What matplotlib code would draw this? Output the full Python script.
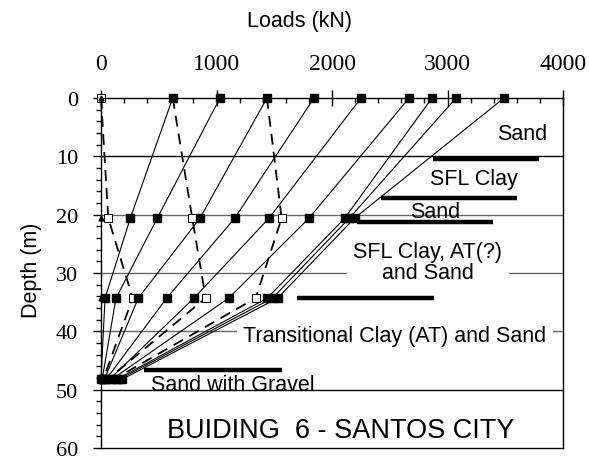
import matplotlib
matplotlib.use("Agg")
import matplotlib.pyplot as plt
from matplotlib.ticker import MultipleLocator

# Depths of the strain-gauge levels (m)
depths = [0.0, 20.6, 34.3, 48.2]

# Axial load (kN) at each gauge level, one list per load stage
solid_loads = [
    [621, 254, 35, 0],
    [1030, 487, 130, 10],
    [1437, 857, 323, 30],
    [1844, 1158, 569, 45],
    [2251, 1455, 805, 75],
    [2667, 1801, 1106, 95],
    [2866, 2110, 1440, 140],
    [3074, 2150, 1485, 160],
    [3489, 2195, 1530, 185],
]
dashed_loads = [
    [0, 63, 274, 20],
    [621, 790, 906, 60],
    [1437, 1564, 1339, 115],
]
zero_loads = [0, 0, 0, 0]

# Soil layer boundaries marked with thick bars: (start load, end load, depth)
bar_start = [2874, 2424, 2216, 1697, 372]
bar_end = [3792, 3602, 3394, 2883, 1567]
bar_depth = [10.5, 17.1, 21.3, 34.3, 46.7]

layer_names = ["Sand", "SFL Clay", "Sand", "SFL Clay, AT(?)\nand Sand",
               "Transitional Clay (AT) and Sand", "Sand with Gravel"]
title_text = "BUIDING  6 - SANTOS CITY"

x_ticks = [0, 1000, 2000, 3000, 4000]
y_ticks = [0, 10, 20, 30, 40, 50, 60]

SANS = "Liberation Sans"
SERIF = "Liberation Serif"

fig = plt.figure(figsize=(5.89, 4.60), dpi=100)
ax = fig.add_axes([101 / 589, 1 - 449 / 460, 462 / 589, 350 / 460])

ax.set_xlim(0, 4000)
ax.set_ylim(60, 0)

# horizontal depth lines
grid_colors = {10: "black", 20: "#666666", 30: "#666666", 40: "#666666", 50: "black"}
for d, c in grid_colors.items():
    ax.axhline(d, color=c, lw=1.0, zorder=1)

# load-transfer curves
for loads in solid_loads:
    ax.plot(loads, depths, color="black", lw=0.8, marker="s", ms=6.3,
            mfc="black", mec="black", zorder=4, clip_on=False)
for loads in dashed_loads:
    ax.plot(loads, depths, color="black", lw=1.3, dashes=(6, 4), marker="s",
            ms=5.2, mfc="white", mec="black", mew=0.7, zorder=3, clip_on=False)
ax.plot(zero_loads, depths, ls="none", marker="^", ms=3.5, color="black",
        zorder=5, clip_on=False)

# layer boundary bars
for x0, x1, d in zip(bar_start, bar_end, bar_depth):
    ax.plot([x0, x1], [d, d], color="black", lw=3.2, solid_capstyle="butt", zorder=3)

# layer names
text_kw = dict(fontsize=15.5, family=SANS, ha="center", zorder=2)
box = dict(boxstyle="square,pad=0.3", fc="white", ec="none")
ax.text(3645, 7.0, layer_names[0], va="baseline", **text_kw)
ax.text(3230, 14.75, layer_names[1], va="baseline", **text_kw)
ax.text(2896, 20.4, layer_names[2], va="baseline", **text_kw)
ax.text(2831, 28.1, layer_names[3], va="center", linespacing=1.05,
        bbox=box, **text_kw)
ax.text(2545, 41.6, layer_names[4], va="baseline", bbox=box, **text_kw)
ax.text(1143, 50.1, layer_names[5], va="baseline", **text_kw)
ax.text(2078, 58.1, title_text, va="baseline", fontsize=19.5, family=SANS,
        ha="center", zorder=2)

# axes, ticks and labels
ax.xaxis.tick_top()
ax.set_xticks(x_ticks)
ax.set_yticks(y_ticks)
ax.xaxis.set_minor_locator(MultipleLocator(200))
ax.yaxis.set_minor_locator(MultipleLocator(2))
ax.tick_params(axis="x", which="major", direction="inout", length=11,
               width=1, pad=11.5, labelsize=17)
ax.tick_params(axis="x", which="minor", direction="in", length=3.6, width=1)
ax.tick_params(axis="y", which="major", direction="out", length=5.5,
               width=1, pad=11, labelsize=16)
ax.tick_params(axis="y", which="minor", direction="out", length=3.5, width=1)
for lab in ax.get_xticklabels() + ax.get_yticklabels():
    lab.set_family(SERIF)
for sp in ax.spines.values():
    sp.set_linewidth(1.0)
    sp.set_zorder(6)

fig.text(299.5 / 589, 1 - 22 / 460, "Loads (kN)", family=SANS, fontsize=15.5,
         ha="center", va="center")
fig.text(32 / 589, 1 - 270 / 460, "Depth (m)", family=SANS, fontsize=15.5,
         ha="center", va="center", rotation=90)

fig.savefig("out.png", dpi=100)
